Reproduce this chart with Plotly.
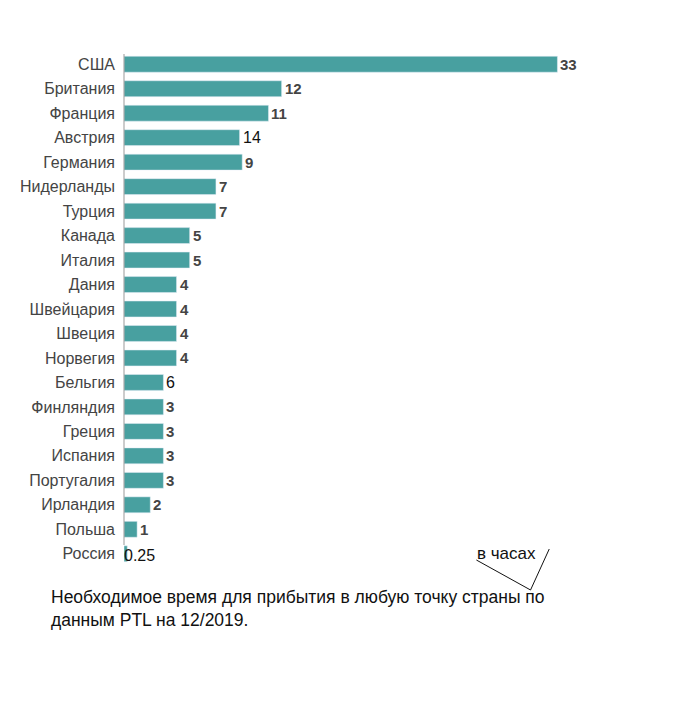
import plotly.graph_objects as go

countries = ["США","Британия","Франция","Австрия","Германия","Нидерланды","Турция","Канада","Италия",
             "Дания","Швейцария","Швеция","Норвегия","Бельгия","Финляндия","Греция","Испания",
             "Португалия","Ирландия","Польша","Россия"]
hours = [33,12,11,8.8,9,7,7,5,5,4,4,4,4,3,3,3,3,3,2,1,0.25]
labels = ["33","12","11","14","9","7","7","5","5","4","4","4","4","6","3","3","3","3","2","1","0.25"]
plain = ["14","6","0.25"]

W,H = 668,686
OX,OY = 8,8
L,R,T,B = 117-OX,120-OX,52-OY,136-OY
pw, ph = W-L-R, H-T-B
def px(x): return (x-OX-L)/pw
def py(y): return (H-B-(y-OY))/ph

FONT = "Liberation Sans, Arial"
fig = go.Figure(go.Bar(x=hours, y=countries, orientation="h", marker_color="#48a0a0",
                       width=0.65, hoverinfo="skip"))
anns = []
for c,v,t in zip(countries,hours,labels):
    if t == "0.25":
        anns.append(dict(x=0, y=c, text=t, xanchor="left", yanchor="middle", showarrow=False,
                         xshift=-2, yshift=-2, font=dict(size=16, color="#111", family=FONT)))
    elif t in plain:
        anns.append(dict(x=v, y=c, text=t, xanchor="left", showarrow=False, xshift=1,
                         font=dict(size=16, color="#111", family=FONT)))
    else:
        anns.append(dict(x=v, y=c, text="<b>"+t+"</b>", xanchor="left", showarrow=False, xshift=1,
                         font=dict(size=15, color="#444", family=FONT)))
anns.append(dict(xref="paper", yref="paper", x=px(474), y=py(553), text="в часах", showarrow=False,
                 xanchor="left", yanchor="middle", font=dict(size=17, color="#111", family=FONT)))
anns.append(dict(xref="paper", yref="paper", x=px(41), y=py(608), text="Необходимое время для прибытия в любую точку страны по<br>данным PTL на 12/2019.",
                 showarrow=False, xanchor="left", yanchor="middle", align="left",
                 font=dict(size=17.5, color="#111", family=FONT)))
shapes = [
    dict(type="line", xref="paper", yref="paper", x0=px(475), y0=py(560), x1=px(530), y1=py(590), line=dict(color="#111", width=1)),
    dict(type="line", xref="paper", yref="paper", x0=px(530), y0=py(590), x1=px(549), y1=py(549), line=dict(color="#111", width=1)),
    dict(type="line", xref="paper", yref="paper", x0=0, y0=py(54), x1=0, y1=py(545), line=dict(color="#999", width=1)),
]
fig.update_layout(width=W, height=H, margin=dict(l=L,r=R,t=T,b=B), plot_bgcolor="white", paper_bgcolor="white",
                  showlegend=False, annotations=anns, shapes=shapes,
                  xaxis=dict(range=[0,33.5], visible=False, fixedrange=True),
                  yaxis=dict(autorange="reversed", showgrid=False, zeroline=False, showline=False, ticks="",
                             ticklabelstandoff=8, tickfont=dict(size=16, color="#444", family=FONT)))
fig.write_html("out.html")
